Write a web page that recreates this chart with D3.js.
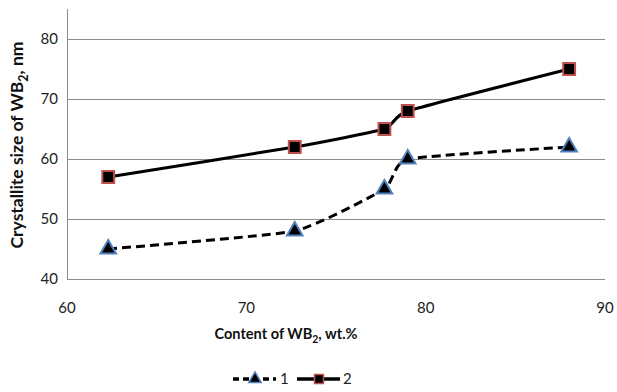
<!DOCTYPE html>
<html><head><meta charset="utf-8">
<script src="https://cdn.jsdelivr.net/npm/d3@7"></script>
<style>body{margin:0;background:#fff}svg{display:block}text{font-family:Lato,"Open Sans",sans-serif}</style>
</head><body><svg id="c" width="617" height="392"></svg>
<script>
const content = [62.3, 72.7, 77.7, 79.0, 88.0];
const series1 = [45, 48, 55, 60, 62];
const series2 = [57, 62, 65, 68, 75];
const seriesNames = ["1", "2"];
const xTicks = [60, 70, 80, 90];
const yTicks = [40, 50, 60, 70, 80];

const svg = d3.select("#c");
const x = d3.scaleLinear().domain([60, 90]).range([67, 605]);
const y = d3.scaleLinear().domain([40, 85]).range([279, 9]);

// gridlines
svg.append("g").selectAll("line").data(yTicks).join("line")
  .attr("x1", x(60)).attr("x2", x(90))
  .attr("y1", d => Math.round(y(d)) + 0.5).attr("y2", d => Math.round(y(d)) + 0.5)
  .attr("stroke", "#8c8c8c").attr("stroke-width", 1);
// y axis line
svg.append("line").attr("x1", x(60) + 0.5).attr("x2", x(60) + 0.5).attr("y1", y(85)).attr("y2", y(40))
  .attr("stroke", "#8c8c8c");

// tick labels
svg.append("g").selectAll("text").data(yTicks).join("text")
  .attr("x", x(60) - 9).attr("y", d => y(d)).attr("dy", "0.35em")
  .attr("text-anchor", "end").attr("font-size", 15).attr("fill", "#222").text(d => d);
svg.append("g").selectAll("text").data(xTicks).join("text")
  .attr("x", d => x(d)).attr("y", 308).attr("dy", "0.35em")
  .attr("text-anchor", "middle").attr("font-size", 15).attr("fill", "#222").text(d => d);

// axis titles
const xt = svg.append("text").attr("x", 286).attr("y", 339).attr("text-anchor", "middle")
  .attr("font-size", 14.6).attr("font-weight", "bold").attr("fill", "#111");
xt.append("tspan").text("Content of WB");
xt.append("tspan").attr("font-size", 10.5).attr("dy", 4).text("2");
xt.append("tspan").attr("dy", -4).text(", wt.%");

const yt = svg.append("text").attr("transform", "translate(23,145) rotate(-90)").attr("text-anchor", "middle")
  .attr("font-size", 17.5).attr("font-weight", "bold").attr("fill", "#111");
yt.append("tspan").text("Crystallite size of WB");
yt.append("tspan").attr("font-size", 12.5).attr("dy", 5).text("2");
yt.append("tspan").attr("dy", -5).text(", nm");

const line = d3.line().x(d => x(d[0])).y(d => y(d[1])).curve(d3.curveCardinal.tension(0.55));
const d1 = content.map((c, i) => [c, series1[i]]);
const d2 = content.map((c, i) => [c, series2[i]]);

svg.append("path").attr("d", line(d1)).attr("fill", "none").attr("stroke", "#000")
  .attr("stroke-width", 3).attr("stroke-dasharray", "9,5");
svg.append("path").attr("d", line(d2)).attr("fill", "none").attr("stroke", "#000")
  .attr("stroke-width", 3);

const tri = d3.symbol().type(d3.symbolTriangle).size(105);
const sq = d3.symbol().type(d3.symbolSquare).size(140);

svg.append("g").selectAll("path").data(d1).join("path")
  .attr("d", tri).attr("transform", d => `translate(${x(d[0])},${y(d[1])})`)
  .attr("fill", "#000").attr("stroke", "#4f81bd").attr("stroke-width", 2);
svg.append("g").selectAll("path").data(d2).join("path")
  .attr("d", sq).attr("transform", d => `translate(${x(d[0])},${y(d[1])})`)
  .attr("fill", "#000").attr("stroke", "#c0504d").attr("stroke-width", 2);

// legend
const ly = 379;
const lg = svg.append("g");
lg.append("line").attr("x1", 233).attr("x2", 276).attr("y1", ly).attr("y2", ly)
  .attr("stroke", "#000").attr("stroke-width", 3.5).attr("stroke-dasharray", "6,4");
lg.append("path").attr("d", d3.symbol().type(d3.symbolTriangle).size(65)).attr("transform", `translate(255,${ly})`)
  .attr("fill", "#000").attr("stroke", "#4f81bd").attr("stroke-width", 1.5);
lg.append("text").attr("x", 280).attr("y", ly).attr("dy", "0.35em").attr("font-size", 15).attr("fill", "#222").text(seriesNames[0]);
lg.append("line").attr("x1", 297).attr("x2", 340).attr("y1", ly).attr("y2", ly)
  .attr("stroke", "#000").attr("stroke-width", 3.5);
lg.append("path").attr("d", d3.symbol().type(d3.symbolSquare).size(80)).attr("transform", `translate(319,${ly})`)
  .attr("fill", "#000").attr("stroke", "#c0504d").attr("stroke-width", 1.5);
lg.append("text").attr("x", 343).attr("y", ly).attr("dy", "0.35em").attr("font-size", 15).attr("fill", "#222").text(seriesNames[1]);
</script></body></html>
